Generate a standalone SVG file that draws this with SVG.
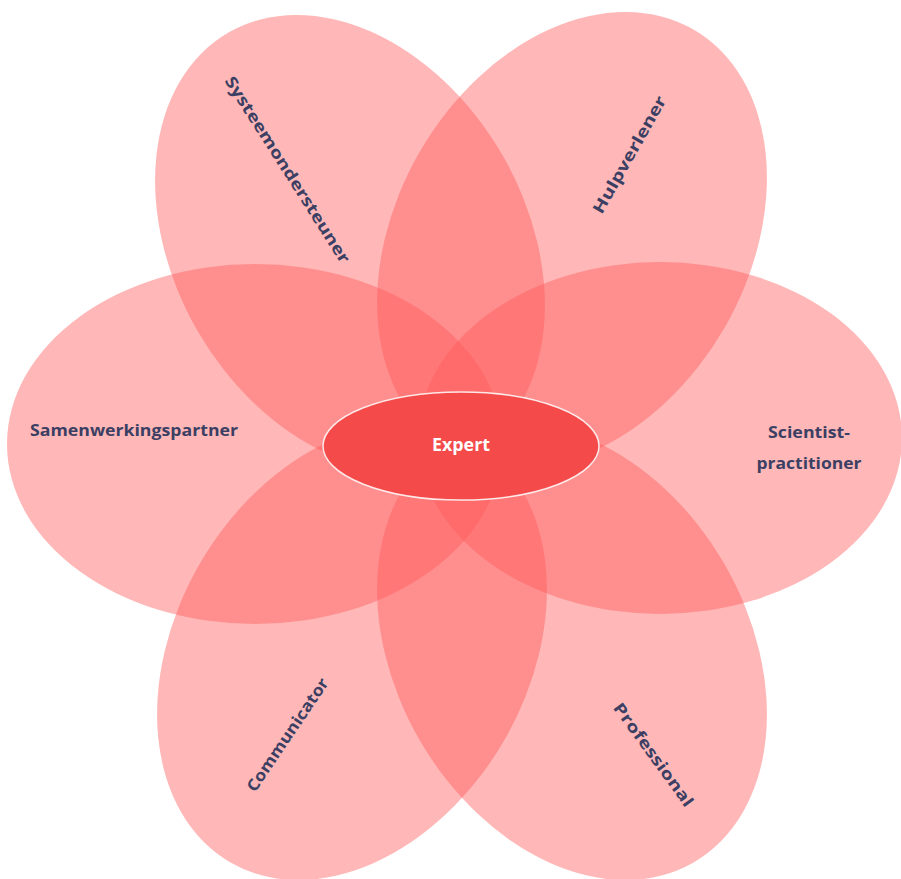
<svg xmlns="http://www.w3.org/2000/svg" width="901" height="879" viewBox="0 0 901 879">
<style>
.petal{fill:#ff5a5a;fill-opacity:0.44;stroke:none}
.lbl{font-family:"Open Sans","Liberation Sans",sans-serif;font-weight:bold;font-size:16px;fill:#3b3f63;text-anchor:middle}
.core{fill:#f44a4a;stroke:#ffffff;stroke-width:1.5;stroke-opacity:0.85}
.corelbl{font-family:"Open Sans","Liberation Sans",sans-serif;font-weight:bold;font-size:17px;fill:#ffffff;text-anchor:middle}
</style>
<rect width="901" height="879" fill="#ffffff"/>
<g id="petal-systeemondersteuner">
<ellipse class="petal" cx="350" cy="243" rx="243" ry="176" transform="rotate(60 350 243)"/>
</g>
<g id="petal-hulpverlener">
<ellipse class="petal" cx="572" cy="240" rx="243" ry="176" transform="rotate(-60 572 240)"/>
</g>
<g id="petal-samenwerkingspartner">
<ellipse class="petal" cx="255" cy="444" rx="248" ry="180"/>
</g>
<g id="petal-scientist">
<ellipse class="petal" cx="660" cy="438" rx="242" ry="176"/>
</g>
<g id="petal-communicator">
<ellipse class="petal" cx="352" cy="652" rx="243" ry="176" transform="rotate(-60 352 652)"/>
</g>
<g id="petal-professional">
<ellipse class="petal" cx="572" cy="652" rx="243" ry="176" transform="rotate(60 572 652)"/>
</g>
<g id="labels">
<text class="lbl" x="287" y="175" textLength="218" lengthAdjust="spacingAndGlyphs" transform="rotate(57.5 287 170)">Systeemondersteuner</text>
<text class="lbl" x="630" y="160" textLength="132" lengthAdjust="spacingAndGlyphs" transform="rotate(-60.5 630 155)">Hulpverlener</text>
<text class="lbl" x="134" y="436" textLength="208" lengthAdjust="spacingAndGlyphs">Samenwerkingspartner</text>
<text class="lbl" x="809" y="438" textLength="82" lengthAdjust="spacingAndGlyphs">Scientist-</text>
<text class="lbl" x="809" y="469" textLength="105" lengthAdjust="spacingAndGlyphs">practitioner</text>
<text class="lbl" x="288" y="740" textLength="133" lengthAdjust="spacingAndGlyphs" transform="rotate(-56 288 735)">Communicator</text>
<text class="lbl" x="653" y="760" textLength="124" lengthAdjust="spacingAndGlyphs" transform="rotate(54 653 755)">Professional</text>
</g>
<g id="node-expert">
<ellipse class="core" cx="461" cy="446" rx="138" ry="54"/>
<text class="corelbl" x="461" y="451" textLength="58" lengthAdjust="spacingAndGlyphs">Expert</text>
</g>
</svg>
